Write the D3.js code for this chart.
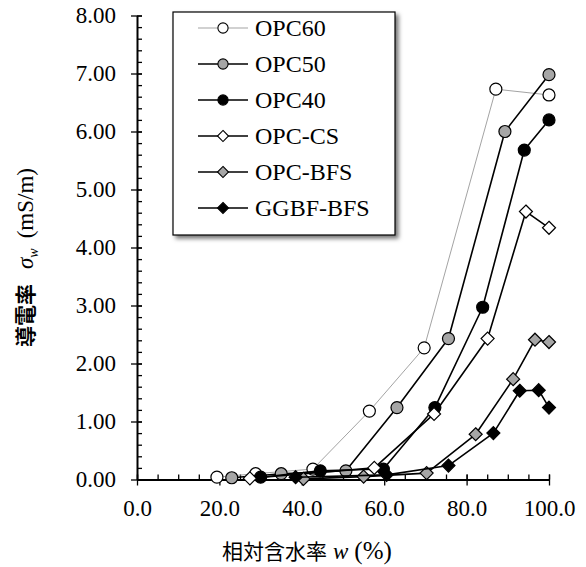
<!DOCTYPE html>
<html>
<head>
<meta charset="utf-8">
<script src="https://cdn.jsdelivr.net/npm/d3@7"></script>
<style>
  body { margin: 0; background: #fff; }
  svg { display: block; }
  .tick text { font-family: "Liberation Serif", "Times New Roman", serif; font-size: 23px; fill: #000; }
</style>
</head>
<body>
<svg id="chart" width="586" height="567"></svg>
<script>
// series data: relative water content w (%) and conductivity (mS/m)
var seriesNames = ["OPC60", "OPC50", "OPC40", "OPC-CS", "OPC-BFS", "GGBF-BFS"];

var opc60W = [19.4, 28.8, 42.7, 56.4, 69.7, 87.1, 100.0],
    opc60S = [0.04, 0.10, 0.18, 1.18, 2.27, 6.73, 6.63];
var opc50W = [23.0, 35.0, 50.7, 63.1, 75.6, 89.3, 100.0],
    opc50S = [0.03, 0.10, 0.15, 1.24, 2.43, 6.00, 6.98];
var opc40W = [30.0, 44.5, 59.8, 72.3, 83.9, 94.0, 100.0],
    opc40S = [0.04, 0.15, 0.18, 1.24, 2.97, 5.68, 6.20];
var opcCsW = [27.4, 57.6, 72.1, 85.1, 94.4, 100.0],
    opcCsS = [0.02, 0.20, 1.13, 2.43, 4.62, 4.34];
var opcBfsW = [40.4, 55.0, 70.3, 82.2, 91.3, 96.6, 100.0],
    opcBfsS = [0.01, 0.05, 0.11, 0.78, 1.73, 2.41, 2.37];
var ggbfW = [38.5, 60.6, 75.6, 86.5, 92.9, 97.5, 100.0],
    ggbfS = [0.04, 0.08, 0.24, 0.80, 1.53, 1.54, 1.24];

var xTicks = [0, 20, 40, 60, 80, 100],
    yTicks = [0, 1, 2, 3, 4, 5, 6, 7, 8];

// marker / line look per series
var styles = [
    {shape: "circle", fill: "#fff", line: "#999", lw: 0.9},
    {shape: "circle", fill: "#a6a6a6", line: "#000", lw: 1.6},
    {shape: "circle", fill: "#000", line: "#000", lw: 1.6},
    {shape: "diamond", fill: "#fff", line: "#000", lw: 1.6},
    {shape: "diamond", fill: "#a6a6a6", line: "#000", lw: 1.6},
    {shape: "diamond", fill: "#000", line: "#000", lw: 1.6}
];

var SERIF = "'Liberation Serif', 'Times New Roman', serif",
    CJK = "'Noto Sans CJK JP', sans-serif";

function draw() {
    var svg = d3.select("#chart"),
        margins = {"left": 137, "right": 37, "top": 15.5, "bottom": 87.5},
        width = 586, height = 567;

    var series = [[opc60W, opc60S], [opc50W, opc50S], [opc40W, opc40S],
                  [opcCsW, opcCsS], [opcBfsW, opcBfsS], [ggbfW, ggbfS]]
        .map((s, i) => ({name: seriesNames[i], style: styles[i],
                         pts: s[0].map((w, j) => [w, s[1][j]])}));

    var x = d3.scaleLinear().domain([0, 100]).range([margins.left, width - margins.right]),
        y = d3.scaleLinear().domain([0, 8]).range([height - margins.bottom, margins.top]);

    // minor ticks (inside) first, then majors crossing the axis line
    svg.append("g").attr("transform", "translate(" + [0, y(0)] + ")")
        .call(d3.axisBottom(x).tickValues(d3.range(0, 101, 5)).tickSize(-5).tickSizeOuter(0).tickFormat(""))
        .call(g => g.select(".domain").remove())
        .selectAll("line").attr("stroke-width", 1.3);
    svg.append("g").attr("transform", "translate(" + [margins.left, 0] + ")")
        .call(d3.axisLeft(y).tickValues(d3.range(0, 8.01, 0.2)).tickSize(-5).tickSizeOuter(0).tickFormat(""))
        .call(g => g.select(".domain").remove())
        .selectAll("line").attr("stroke-width", 1.3);

    var xa = svg.append("g").attr("transform", "translate(" + [0, y(0)] + ")")
        .call(d3.axisBottom(x).tickValues(xTicks).tickSize(6).tickSizeOuter(0).tickPadding(14)
              .tickFormat(d3.format(".1f")));
    var ya = svg.append("g").attr("transform", "translate(" + [margins.left, 0] + ")")
        .call(d3.axisLeft(y).tickValues(yTicks).tickSize(6).tickSizeOuter(0).tickPadding(15)
              .tickFormat(d3.format(".2f")));
    [xa, ya].forEach(a => {
        a.select(".domain").attr("stroke-width", 2);
        a.selectAll(".tick line").attr("stroke-width", 1.3).attr("y1", a === xa ? -5 : null).attr("x1", a === ya ? 5 : null);
    });

    // lines + markers
    var line = d3.line().x(d => x(d[0])).y(d => y(d[1]));
    var groups = svg.selectAll(".series").data(series).enter().append("g").classed("series", true);
    groups.append("path")
        .attr("d", d => line(d.pts))
        .attr("fill", "none")
        .attr("stroke", d => d.style.line)
        .attr("stroke-width", d => d.style.lw)
        .attr("stroke-linejoin", "round");
    groups.each(function(s) {
        d3.select(this).selectAll(".pt").data(s.pts).enter()
            .append("path").classed("pt", true)
            .attr("transform", d => "translate(" + [x(d[0]), y(d[1])] + ")")
            .attr("d", marker(s.style.shape, 1))
            .attr("fill", s.style.fill)
            .attr("stroke", "#000")
            .attr("stroke-width", 1.2);
    });

    // legend
    var defs = svg.append("defs");
    var f = defs.append("filter").attr("id", "shadow").attr("x", "-10%").attr("y", "-10%").attr("width", "130%").attr("height", "130%");
    f.append("feDropShadow").attr("dx", 3).attr("dy", 3).attr("stdDeviation", 2).attr("flood-color", "#000").attr("flood-opacity", 0.55);

    var lg = svg.append("g").attr("transform", "translate(173,12)");
    lg.append("rect").attr("width", 222).attr("height", 223)
        .attr("fill", "#fff").attr("stroke", "#000").attr("stroke-width", 1.2)
        .attr("filter", "url(#shadow)");
    var rows = lg.selectAll(".row").data(series).enter().append("g")
        .attr("transform", (d, i) => "translate(0," + (16 + i * 36) + ")");
    rows.append("line").attr("x1", 25).attr("x2", 75)
        .attr("stroke", d => d.style.line).attr("stroke-width", d => d.style.lw);
    rows.append("path").attr("transform", "translate(50,0)")
        .attr("d", d => marker(d.style.shape, 0.85))
        .attr("fill", d => d.style.fill).attr("stroke", "#000").attr("stroke-width", 1.1);
    rows.append("text").attr("x", 82).attr("y", 8)
        .style("font-family", SERIF).style("font-size", "24px")
        .text(d => d.name);

    // axis titles
    var xt = svg.append("text").attr("x", 222).attr("y", 559).attr("text-anchor", "start");
    xt.append("tspan").style("font-family", CJK).style("font-size", "21px").text("相対含水率");
    xt.append("tspan").attr("dx", 6).style("font-family", SERIF).style("font-style", "italic").style("font-size", "23px").text("w");
    xt.append("tspan").attr("dx", 6).style("font-family", SERIF).style("font-size", "25px").text("(%)");

    var yt = svg.append("text").attr("transform", "translate(33,347) rotate(-90)").attr("text-anchor", "start");
    yt.append("tspan").style("font-family", CJK).style("font-weight", "bold").style("font-size", "21px").text("導電率");
    yt.append("tspan").attr("dx", 15).style("font-family", SERIF).style("font-style", "italic").style("font-size", "23px").text("σ");
    yt.append("tspan").style("font-family", SERIF).style("font-style", "italic").style("font-size", "14px").attr("dy", 5).text("w");
    yt.append("tspan").attr("dx", 10).attr("dy", -5).style("font-family", SERIF).style("font-size", "23px").text("(mS/m)");
}

function marker(shape, k) {
    if (shape === "circle") {
        var r = 6 * k;
        return "M" + (-r) + ",0A" + r + "," + r + " 0 1,0 " + r + ",0A" + r + "," + r + " 0 1,0 " + (-r) + ",0Z";
    }
    var s = 6.5 * k;
    return "M0," + (-s) + "L" + s + ",0L0," + s + "L" + (-s) + ",0Z";
}

draw();
</script>
</body>
</html>
